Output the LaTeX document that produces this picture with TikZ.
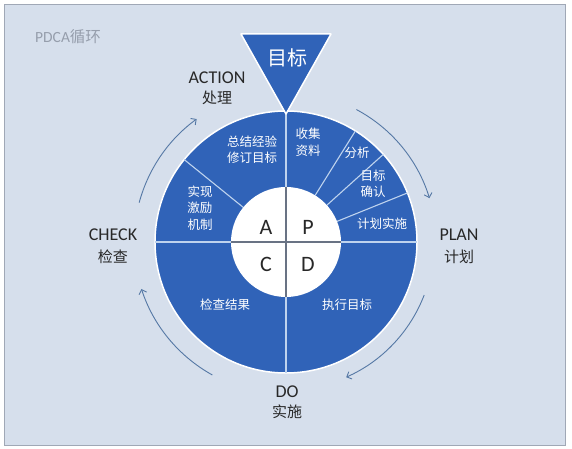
\documentclass[tikz,border=0pt]{standalone}
\usepackage{fontspec}
\setmainfont{Carlito}
\newfontfamily\cjk{Noto Sans CJK SC}
\usetikzlibrary{arrows.meta}

\definecolor{cbg}{RGB}{214,223,236}
\definecolor{cframe}{RGB}{160,168,182}
\definecolor{cdisk}{RGB}{48,99,184}
\definecolor{cline}{RGB}{190,211,238}
\definecolor{cinner}{RGB}{105,115,132}
\definecolor{carc}{RGB}{85,120,165}
\definecolor{ctext}{RGB}{40,40,40}
\definecolor{ctitle}{RGB}{150,158,172}

\begin{document}
\begin{tikzpicture}[x=1pt,y=1pt,
        seglab/.style={text=white,font=\cjk\fontsize{12.5}{16.5}\selectfont,align=center,inner sep=0pt},
        phaselab/.style={text=ctext,font=\fontsize{18}{20}\selectfont,inner sep=0pt},
        phasezh/.style={text=ctext,font=\cjk\fontsize{15}{16}\selectfont,inner sep=0pt},
        letter/.style={text=ctext,font=\fontsize{22}{22}\selectfont,inner sep=0pt},
        cyc/.style={draw=carc,line width=0.9pt,-{Straight Barb[length=4pt,width=8pt]}}]

      \fill[white] (-286,-207) rectangle (286,242);
      \draw[draw=cframe,fill=cbg,line width=1pt] (-281,237) rectangle (279,-203);   % frame

      \node[text=ctitle,font=\fontsize{15.5}{16}\selectfont,anchor=west,inner sep=0pt]
        (title) at (-251,205) {PDCA{\cjk 循环}};

      % outer disk and sectors
      \draw[fill=cdisk,draw=white,line width=1.5pt] (0,0) circle (131);
      \foreach \a in {0,90,180,270}
        \draw[cline,line width=1.8pt] (\a:55) -- (\a:131);
      \foreach \a in {141,58,42,22}
        \draw[cline,line width=1.1pt] (\a:55) -- (\a:131);

      % inner circle
      \fill[white] (0,0) circle (55);
      \draw[cinner,line width=2.2pt] (-55,0) -- (55,0) (0,-55) -- (0,55);

      % goal triangle
      \draw[fill=cdisk,draw=white,line width=1.5pt,line join=round]
        (-45,208) -- (45,208) -- (0,128) -- cycle;
      \node[text=white,font=\cjk\fontsize{20}{20}\selectfont,inner sep=0pt] (goal) at (1,184) {目标};

      % cycle arrows
      \draw[cyc] (165:152) arc[start angle=165,end angle=126,radius=152];
      \draw[cyc] (62:150) arc[start angle=62,end angle=17,radius=150];
      \draw[cyc] (-21:148) arc[start angle=-21,end angle=-66,radius=148];
      \draw[cyc] (-119:152) arc[start angle=-119,end angle=-162,radius=152];

      \node[letter] (la) at (-20,15)  {A};
      \node[letter] (lp) at (22,15)   {P};
      \node[letter] (lc) at (-20,-22) {C};
      \node[letter] (ld) at (22,-22)  {D};

      \node[seglab] (sum)  at (-34,92.5) {总结经验\\修订目标};
      \node[seglab] (inc)  at (-86,34)   {实现\\激励\\机制};
      \node[seglab] (col)  at (22,100)   {收集\\资料};
      \node[seglab] (ana)  at (71,89)    {分析};
      \node[seglab] (tgt)  at (87,58)    {目标\\确认};
      \node[seglab] (imp)  at (96,18)    {计划实施};
      \node[seglab] (chk)  at (-61,-63)  {检查结果};
      \node[seglab] (exe)  at (61,-63)   {执行目标};

      \node[phaselab] (act)   at (-69,164) {ACTION};
      \node[phasezh]  (actzh) at (-69,144) {处理};
      \node[phaselab] (check)   at (-173,7)  {CHECK};
      \node[phasezh]  (checkzh) at (-173,-15) {检查};
      \node[phaselab] (plan)   at (173,7)  {PLAN};
      \node[phasezh]  (planzh) at (173,-15) {计划};
      \node[phaselab] (do)   at (1,-150) {DO};
      \node[phasezh]  (dozh) at (1,-170) {实施};
    \end{tikzpicture}
\end{document}
